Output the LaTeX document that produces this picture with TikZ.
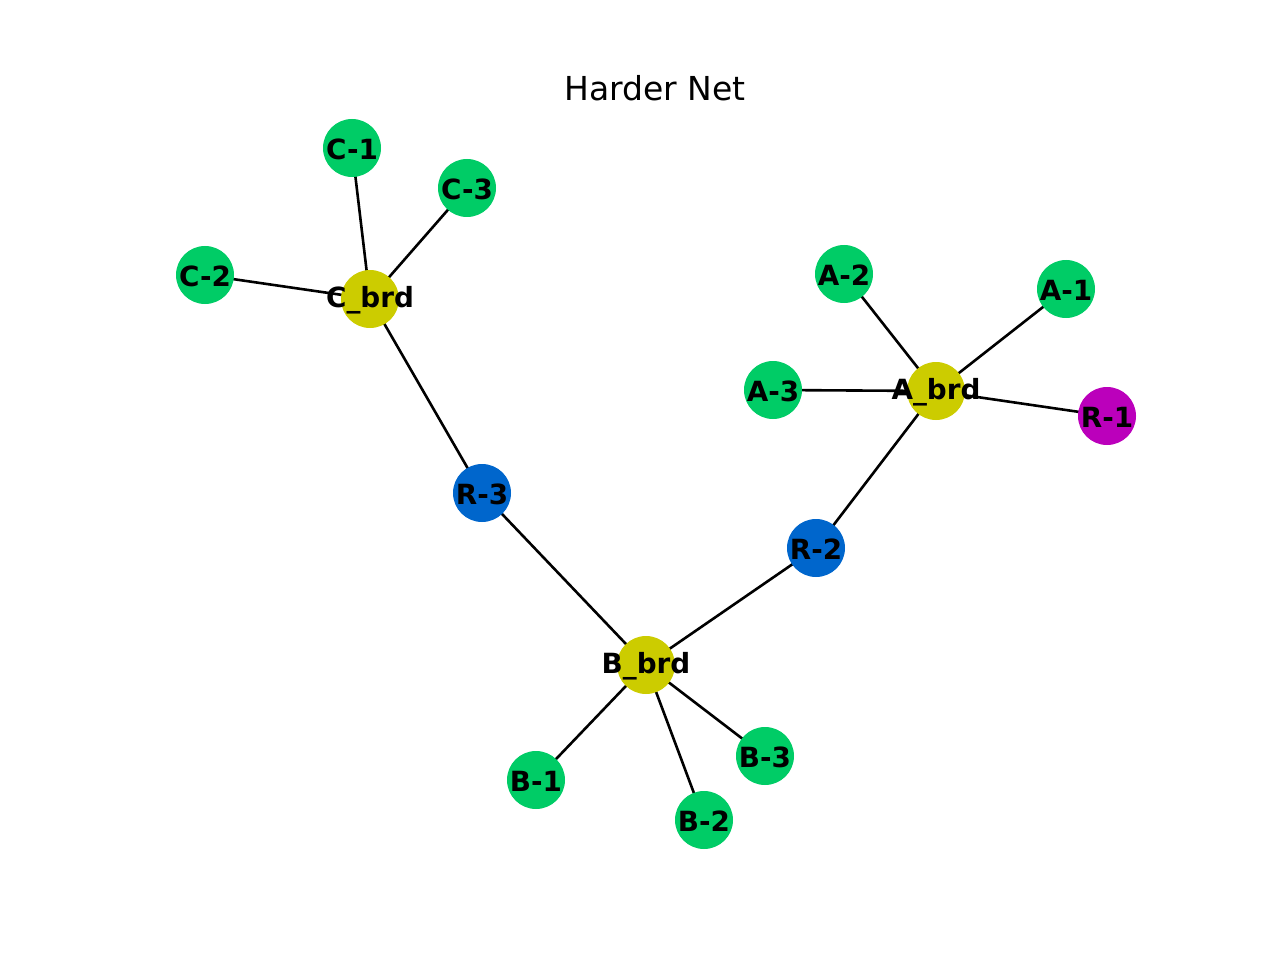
\documentclass[tikz,border=0pt]{standalone}
\usepackage{fontspec}
\setmainfont{DejaVu Sans}
\usetikzlibrary{backgrounds}
\definecolor{gn}{HTML}{00CC66}
\definecolor{yl}{HTML}{CCCC00}
\definecolor{bl}{HTML}{0066CC}
\definecolor{mg}{HTML}{BB00BB}
\tikzset{
  vtx/.style={circle,minimum size=58pt,inner sep=0pt,
    label={[font=\fontsize{27.8}{30}\selectfont\bfseries,text=black,inner sep=0pt,yshift=-1pt]center:#1}},
  edge/.style={draw=black,line width=2.6pt}
}
\begin{document}
\begin{tikzpicture}[x=1pt,y=-1pt]
\useasboundingbox (0,0) rectangle (1280,960);
\node[font=\fontsize{33}{38}\selectfont] (title) at (655,88) {Harder Net};
\node[vtx=C-1,fill=gn] (C1) at (352,148) {};
\node[vtx=C-3,fill=gn] (C3) at (467,188) {};
\node[vtx=C-2,fill=gn] (C2) at (205,275) {};
\node[vtx=C\_brd,fill=yl] (Cb) at (370,299) {};
\node[vtx=A-2,fill=gn] (A2) at (844,274) {};
\node[vtx=A-1,fill=gn] (A1) at (1066,289) {};
\node[vtx=A-3,fill=gn] (A3) at (773,390) {};
\node[vtx=A\_brd,fill=yl] (Ab) at (936,391) {};
\node[vtx=R-1,fill=mg] (R1) at (1107,416) {};
\node[vtx=R-3,fill=bl] (R3) at (482,493) {};
\node[vtx=R-2,fill=bl] (R2) at (816,548) {};
\node[vtx=B\_brd,fill=yl] (Bb) at (646,665) {};
\node[vtx=B-1,fill=gn] (B1) at (536,780) {};
\node[vtx=B-3,fill=gn] (B3) at (765,756) {};
\node[vtx=B-2,fill=gn] (B2) at (704,820) {};
\begin{scope}[on background layer]
\foreach \a/\b in {C1/Cb,C3/Cb,C2/Cb,Cb/R3,R3/Bb,Bb/R2,R2/Ab,Ab/A2,Ab/A1,Ab/A3,Ab/R1,Bb/B1,Bb/B2,Bb/B3}
  \draw[edge] (\a.center) -- (\b.center);
\end{scope}
\end{tikzpicture}
\end{document}
